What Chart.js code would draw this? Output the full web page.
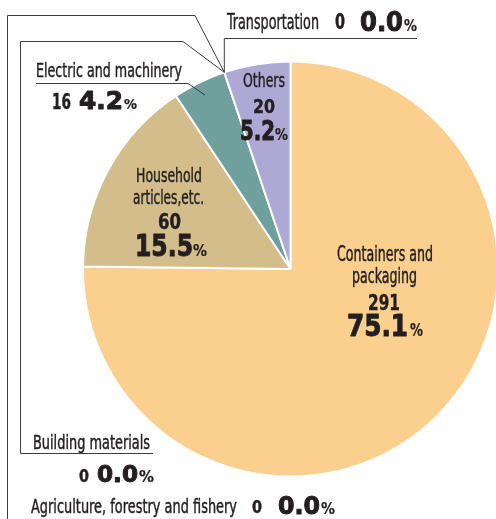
<!DOCTYPE html>
<html><head><meta charset="utf-8">
<script src="https://cdn.jsdelivr.net/npm/chart.js@4/dist/chart.umd.min.js"></script>
<style>html,body{margin:0;padding:0;background:#fff;overflow:hidden}#wrap{width:500px;height:519px;position:relative}</style>
</head><body><div id="wrap"><canvas id="c" width="500" height="519"></canvas></div>
<script>
// ---- data ----
const categories = ["Containers and packaging", "Household articles,etc.", "Electric and machinery", "Building materials", "Agriculture, forestry and fishery", "Transportation", "Others"];
const amounts = [291, 60, 16, 0, 0, 0, 20];
const shares = ["75.1", "15.5", "4.2", "0.0", "0.0", "0.0", "5.2"];

// ---- styles ----
const sliceColors = ["#FBCF8E", "#D3BD8B", "#6FA09D", "#D3BD8B", "#D3BD8B", "#AEA9D4", "#AEA9D4"];
const TEXT = "#231F20", LINE = "#3C3C3C";
const F_REG = "SIZE 'Liberation Sans Narrow','DejaVu Sans Condensed','Liberation Sans',sans-serif";
const F_BOLD = "bold SIZE 'Liberation Sans Narrow','DejaVu Sans Condensed','Liberation Sans',sans-serif";
const F_HEAVY = "bold SIZE 'DejaVu Sans','Liberation Sans',sans-serif";

// label layout: nameSplit = words per line; boxes [x1,x2,baseline,capHeight]
const labelLayout = {
  0: {split: [2, 1], name: [[337, 433, 261, 15], [352, 417, 283, 15]], count: [368, 400, 310, 16], pct: [347, 408, 336, 22], sign: [410, 423, 336, 13]},
  1: {split: [1, 1], name: [[136, 202, 182, 14.5], [133, 204, 204, 14.5]], count: [158, 181, 229, 16], pct: [135, 193, 256, 22], sign: [193, 207, 256, 12]},
  2: {split: [3], name: [[36, 182, 77, 14]], count: [52, 71, 109, 16], pct: [79, 123, 109, 18], sign: [124, 137, 109, 10]},
  3: {split: [2], name: [[33, 150, 449, 13.5]], count: [79, 89, 482, 13], pct: [97, 138, 482, 17], sign: [139, 154, 482, 11]},
  4: {split: [4], name: [[31, 237, 513, 14]], count: [252, 262, 513, 13], pct: [278, 320, 514, 18], sign: [321, 335, 514, 12]},
  5: {split: [1], name: [[227, 319, 29, 16]], count: [335, 345, 29, 15], pct: [360, 403, 31, 19], sign: [404, 417, 31, 12]},
  6: {split: [1], name: [[243, 285, 87, 14]], count: [253, 275, 113, 14], pct: [240, 275, 140, 20], sign: [275, 288, 140, 12]}
};

function run(ctx, text, box, font, thick) {
  const [x1, x2, base, cap] = box;
  const size = cap / 0.729;
  ctx.font = font.replace('SIZE', size.toFixed(2) + 'px');
  const w = ctx.measureText(text).width;
  ctx.save();
  ctx.translate(x1, base);
  ctx.scale((x2 - x1) / w, 1);
  ctx.fillText(text, 0, 0);
  if (thick > 0) {
    ctx.lineWidth = thick;
    ctx.strokeStyle = TEXT;
    ctx.lineJoin = 'round';
    ctx.strokeText(text, 0, 0);
  }
  ctx.restore();
}

function poly(ctx, pts) {
  ctx.beginPath();
  ctx.moveTo(pts[0][0], pts[0][1]);
  for (let i = 1; i < pts.length; i++) ctx.lineTo(pts[i][0], pts[i][1]);
  ctx.stroke();
}

const labelsPlugin = {
  id: 'labels',
  afterDraw(chart) {
    const ctx = chart.ctx;
    const meta = chart.getDatasetMeta(0);
    const arc = meta.data[6];
    const a = arc.startAngle;
    const A = [arc.x + arc.outerRadius * Math.cos(a), arc.y + arc.outerRadius * Math.sin(a)];
    ctx.save();
    ctx.strokeStyle = LINE;
    ctx.lineWidth = 1;
    // leader lines
    poly(ctx, [[7.5, 519], [7.5, 15.5], [195, 15.5], A]);
    poly(ctx, [[153, 453.5], [20.5, 453.5], [20.5, 41.5], [183, 41.5], A]);
    poly(ctx, [A, [A[0], 38.5], [417, 38.5]]);
    poly(ctx, [[36, 83.5], [188, 83.5], [205, 95]]);
    // texts
    ctx.fillStyle = TEXT;
    ctx.textBaseline = 'alphabetic';
    ctx.textAlign = 'left';
    categories.forEach((cat, i) => {
      const L = labelLayout[i];
      const words = cat.split(' ');
      let k = 0;
      L.split.forEach((n, li) => {
        const line = words.slice(k, k + n).join(' ');
        k += n;
        run(ctx, line, L.name[li], F_REG, 0.45);
      });
      run(ctx, String(amounts[i]), L.count, F_BOLD, 0.4);
      run(ctx, shares[i], L.pct, F_HEAVY, 1.0);
      run(ctx, '%', L.sign, F_BOLD, 0.2);
    });
    ctx.restore();
  }
};

new Chart(document.getElementById('c'), {
  type: 'pie',
  data: {
    labels: categories,
    datasets: [{
      data: amounts,
      backgroundColor: sliceColors,
      borderColor: '#FFFFFF',
      borderWidth: 2
    }]
  },
  options: {
    responsive: false,
    animation: false,
    events: [],
    layout: {padding: {left: 82, right: 1, top: 60.5, bottom: 41.5}},
    plugins: {legend: {display: false}, tooltip: {enabled: false}}
  },
  plugins: [labelsPlugin]
});
</script>
</body></html>
